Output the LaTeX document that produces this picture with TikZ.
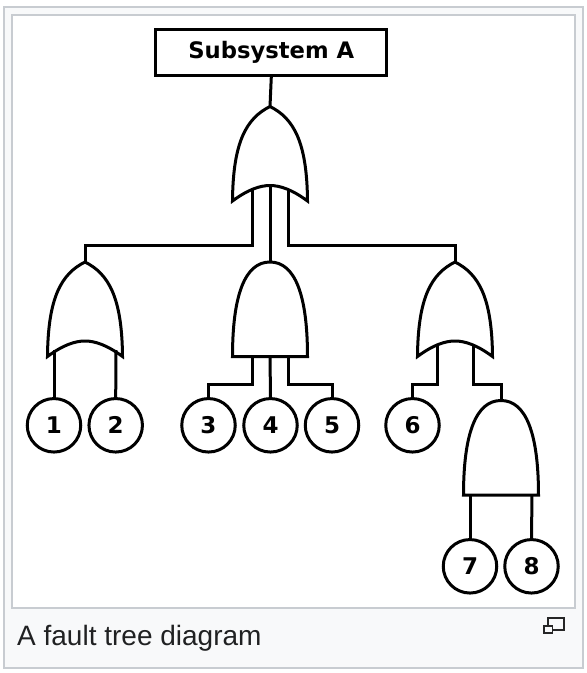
\documentclass[tikz,border=0pt]{standalone}
\usepackage{fontspec}
\setmainfont{DejaVu Sans}
\newfontfamily\capfont{Liberation Sans}
\definecolor{frameline}{HTML}{C8CCD1}
\definecolor{capbg}{HTML}{F8F9FA}
\definecolor{capink}{HTML}{202122}
\tikzset{
  x=1pt,y=-1pt,
  wire/.style={line width=3pt,line cap=butt,line join=miter,black},
  gateline/.style={line width=3pt,line join=miter,miter limit=10,black,fill=white},
  evt/.style={circle,draw=black,line width=3pt,fill=white,minimum size=53.5pt,inner sep=0pt,font=\fontsize{23}{23}\selectfont\bfseries},
  titlebox/.style={rectangle,draw=black,line width=3pt,fill=white,minimum width=231pt,minimum height=46pt,inner sep=0pt,font=\fontsize{22.7}{22.7}\selectfont\bfseries},
  orgate/.pic={
    \draw[gateline] (0,0) .. controls (24,12) and (37,36) .. (37.5,94.5)
      .. controls (22,83) and (10,79) .. (0,79)
      .. controls (-10,79) and (-22,83) .. (-37.5,94.5)
      .. controls (-37,36) and (-24,12) .. (0,0) -- cycle;
    \coordinate (-apex) at (0,0);
    \coordinate (-a) at (-18,82);
    \coordinate (-b) at (0,79);
    \coordinate (-c) at (18,82);
    \coordinate (-wl) at (-31,88);
    \coordinate (-wr) at (31,88);
  },
  andgate/.pic={
    \draw[gateline] (-37.5,94.5) .. controls (-37.5,33) and (-25,0) .. (0,0)
      .. controls (25,0) and (37.5,33) .. (37.5,94.5) -- cycle;
    \coordinate (-apex) at (0,0);
    \coordinate (-a) at (-18,94.5);
    \coordinate (-b) at (0,94.5);
    \coordinate (-c) at (18,94.5);
    \coordinate (-wl) at (-31,94.5);
    \coordinate (-wr) at (31,94.5);
  }
}
\begin{document}
\begin{tikzpicture}
\useasboundingbox (0,0) rectangle (587,673);
\fill[white] (0,0) rectangle (587,673);
\draw[frameline,fill=capbg,line width=2pt] (4,7) rectangle (583,668);
\draw[frameline,fill=white,line width=2pt] (12,14.5) rectangle (575,608);

\node[titlebox] (top) at (271.3,52.3) {\raisebox{-1pt}{Subsystem A}};
\pic (G0) at (270,106.5) {orgate};
\pic (G1) at (85,262) {orgate};
\pic (G2) at (270,262) {andgate};
\pic (G3) at (455,262) {orgate};
\pic (G4) at (501,400.5) {andgate};

\node[evt] (e1) at (54,425.3) {1};
\node[evt] (e2) at (115.7,425.3) {2};
\node[evt] (e3) at (208.5,425.3) {3};
\node[evt] (e4) at (270.5,425.3) {4};
\node[evt] (e5) at (332,425.3) {5};
\node[evt] (e6) at (412.5,425.3) {6};
\node[evt] (e7) at (470,566.3) {7};
\node[evt] (e8) at (531.5,566.3) {8};

\draw[wire] (top.south) -- (G0-apex);
\draw[wire] (G0-a) -- ++(0,56.5) -| (G1-apex);
\draw[wire] (G0-b) -- (G2-apex);
\draw[wire] (G0-c) -- ++(0,56.5) -| (G3-apex);
\draw[wire] (G1-wl) -- (e1.north);
\draw[wire] (G1-wr) -- (e2.north);
\draw[wire] (G2-a) -- ++(0,27.5) -| (e3.north);
\draw[wire] (G2-b) -- (e4.north);
\draw[wire] (G2-c) -- ++(0,27.5) -| (e5.north);
\draw[wire] (G3-a) -- ++(0,40) -| (e6.north);
\draw[wire] (G3-c) -- ++(0,40) -| (G4-apex);
\draw[wire] (G4-wl) -- (e7.north);
\draw[wire] (G4-wr) -- (e8.north);

\node[anchor=base west,inner sep=0pt,text=capink,font=\capfont\fontsize{28}{28}\selectfont] (cap) at (17,645) {A fault tree diagram};
\draw[black!85,line width=1.4pt,fill=capbg] (548,618) rectangle (564,630);
\draw[black!85,line width=1.4pt,fill=capbg] (544,626) rectangle (552.5,633);
\end{tikzpicture}
\end{document}
